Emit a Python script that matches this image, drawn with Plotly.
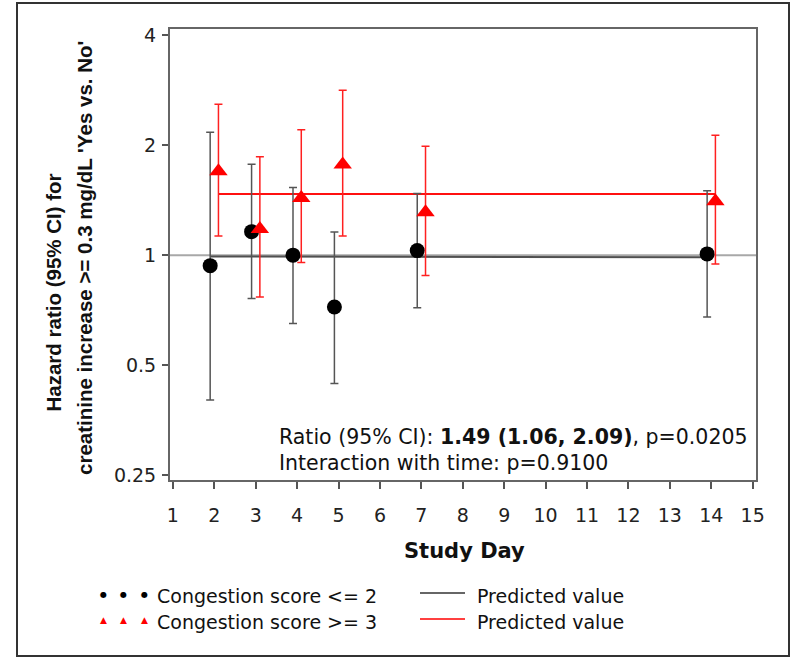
import plotly.graph_objects as go

# ---- data ----
x_ticks = list(range(1, 16))
y_ticks = [0.25, 0.5, 1, 2, 4]
y_tick_labels = ["0.25", "0.5", "1", "2", "4"]

low_x = [1.9, 2.9, 3.9, 4.9, 6.9, 13.9]
low_hr = [0.936, 1.160, 1.000, 0.721, 1.029, 1.008]
low_upper = [2.17, 1.774, 1.532, 1.158, 1.475, 1.500]
low_lower = [0.401, 0.761, 0.650, 0.445, 0.718, 0.677]

high_x = [2.1, 3.1, 4.1, 5.1, 7.1, 14.1]
high_hr = [1.697, 1.180, 1.435, 1.771, 1.310, 1.405]
high_upper = [2.59, 1.859, 2.204, 2.830, 1.987, 2.130]
high_lower = [1.129, 0.768, 0.954, 1.129, 0.879, 0.946]

low_pred_x = [1.9, 13.9]
low_pred_y = [0.992, 0.987]
high_pred_x = [2.1, 14.1]
high_pred_y = [1.47, 1.47]

ref_y = [1, 1]
x_range = [0.93, 15.08]
y_range_log = [-0.6159, 0.6195]

stats_line1 = "Ratio (95% CI): <b>1.49 (1.06, 2.09)</b>, p=0.0205"
stats_line2 = "Interaction with time: p=0.9100"

# ---- figure geometry ----
W, H = 792, 658
L, R, T, B = 170, 36, 29, 178
PW, PH = W - L - R, H - T - B


def px(x):
    return (x - L) / PW


def py(y):
    return (H - B - y) / PH


fig = go.Figure()

fig.add_trace(go.Scatter(x=x_range, y=ref_y, mode="lines",
                         line=dict(color="#a8a8a8", width=2), showlegend=False,
                         hoverinfo="skip"))
fig.add_trace(go.Scatter(x=low_pred_x, y=low_pred_y, mode="lines",
                         line=dict(color="#505050", width=2), showlegend=False))
fig.add_trace(go.Scatter(x=high_pred_x, y=high_pred_y, mode="lines",
                         line=dict(color="#ff1010", width=2), showlegend=False))

fig.add_trace(go.Scatter(
    x=low_x, y=low_hr, mode="markers",
    marker=dict(symbol="circle", size=15, color="black"),
    error_y=dict(type="data", symmetric=False,
                 array=[u - v for u, v in zip(low_upper, low_hr)],
                 arrayminus=[v - l for v, l in zip(low_hr, low_lower)],
                 color="#555555", thickness=1.5, width=4),
    showlegend=False))

fig.add_trace(go.Scatter(
    x=high_x, y=high_hr, mode="markers",
    marker=dict(symbol="triangle-up", size=16, color="#ff0000"),
    error_y=dict(type="data", symmetric=False,
                 array=[u - v for u, v in zip(high_upper, high_hr)],
                 arrayminus=[v - l for v, l in zip(high_hr, high_lower)],
                 color="#ff2020", thickness=1.5, width=4),
    showlegend=False))

tick_font = dict(family="DejaVu Sans", size=19, color="#222222")

fig.update_xaxes(range=x_range, tickvals=x_ticks, ticks="outside", ticklen=7,
                 tickwidth=1.5, tickcolor="#555555", showline=True, mirror=True,
                 linecolor="#666666", linewidth=2, showgrid=False, zeroline=False,
                 tickfont=tick_font, ticklabelstandoff=10)
fig.update_yaxes(type="log", range=y_range_log, tickvals=y_ticks,
                 ticktext=y_tick_labels, ticks="outside", ticklen=6,
                 tickwidth=1.5, tickcolor="#555555", showline=True, mirror=True,
                 linecolor="#666666", linewidth=2, showgrid=False, zeroline=False,
                 tickfont=tick_font, ticklabelstandoff=2)

ann = []
ann.append(dict(x=px(277), y=py(437), xref="paper", yref="paper", xanchor="left",
                yanchor="middle", text=stats_line1, showarrow=False,
                font=dict(family="DejaVu Sans", size=20.5, color="#111111")))
ann.append(dict(x=px(277), y=py(463), xref="paper", yref="paper", xanchor="left",
                yanchor="middle", text=stats_line2, showarrow=False,
                font=dict(family="DejaVu Sans", size=20.5, color="#111111")))
ann.append(dict(x=px(464), y=py(551), xref="paper", yref="paper", xanchor="center",
                yanchor="middle", text="<b>Study Day</b>", showarrow=False,
                font=dict(family="DejaVu Sans", size=21, color="#111111")))
ann.append(dict(x=px(52.5), y=py(292), xref="paper", yref="paper", xanchor="center",
                yanchor="middle", text="<b>Hazard ratio (95% CI) for</b>",
                textangle=-90, showarrow=False,
                font=dict(family="Liberation Sans", size=20.5, color="#111111")))
ann.append(dict(x=px(84), y=py(258), xref="paper", yref="paper", xanchor="center",
                yanchor="middle",
                text="<b>creatinine increase &gt;= 0.3 mg/dL 'Yes vs. No'</b>",
                textangle=-90, showarrow=False,
                font=dict(family="Liberation Sans", size=20.5, color="#111111")))

# legend (drawn manually)
leg_font = dict(family="DejaVu Sans", size=19, color="#111111")
ann.append(dict(x=px(155), y=py(596), xref="paper", yref="paper", xanchor="left",
                yanchor="middle", text="Congestion score &lt;= 2", showarrow=False,
                font=leg_font))
ann.append(dict(x=px(155), y=py(622), xref="paper", yref="paper", xanchor="left",
                yanchor="middle", text="Congestion score &gt;= 3", showarrow=False,
                font=leg_font))
ann.append(dict(x=px(475), y=py(596), xref="paper", yref="paper", xanchor="left",
                yanchor="middle", text="Predicted value", showarrow=False,
                font=leg_font))
ann.append(dict(x=px(475), y=py(622), xref="paper", yref="paper", xanchor="left",
                yanchor="middle", text="Predicted value", showarrow=False,
                font=leg_font))
for sx in (103.5, 123.7, 144):
    ann.append(dict(x=px(sx), y=py(594), xref="paper", yref="paper",
                    xanchor="center", yanchor="middle", text="●", showarrow=False,
                    font=dict(family="DejaVu Sans", size=8, color="black")))
    ann.append(dict(x=px(sx), y=py(620), xref="paper", yref="paper",
                    xanchor="center", yanchor="middle", text="▲", showarrow=False,
                    font=dict(family="DejaVu Sans", size=9, color="#ff0000")))

shapes = [
    dict(type="line", xref="paper", yref="paper", x0=px(420), x1=px(465),
         y0=py(593), y1=py(593), line=dict(color="#333333", width=1.5)),
    dict(type="line", xref="paper", yref="paper", x0=px(420), x1=px(465),
         y0=py(619), y1=py(619), line=dict(color="#ff0000", width=1.5)),
    dict(type="rect", xref="paper", yref="paper", x0=px(17), x1=px(789),
         y0=py(656), y1=py(3), line=dict(color="#333333", width=2)),
]

fig.update_layout(width=W, height=H, margin=dict(l=L, r=R, t=T, b=B),
                  plot_bgcolor="white", paper_bgcolor="white",
                  annotations=ann, shapes=shapes, showlegend=False)

fig.write_html("out.html")
